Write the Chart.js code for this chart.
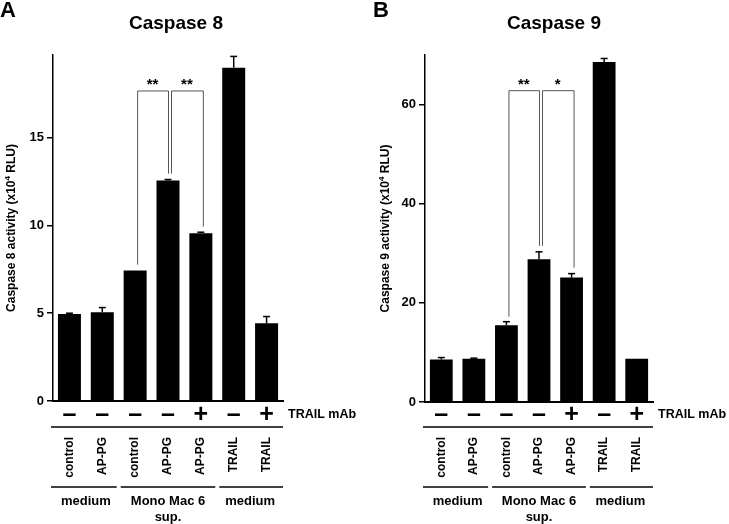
<!DOCTYPE html>
<html>
<head>
<meta charset="utf-8">
<script src="https://cdn.jsdelivr.net/npm/chart.js@4.4.1/dist/chart.umd.min.js"></script>
<style>
  body { margin: 0; background: #fff; }
  canvas { position: absolute; top: 0; }
</style>
</head>
<body>
<canvas id="chartA" style="left:0" width="372" height="524"></canvas>
<canvas id="chartB" style="left:372px" width="357" height="524"></canvas>
<script>
// ======================
// DATA
// ======================
const categories = ["control", "AP-PG", "control", "AP-PG", "AP-PG", "TRAIL", "TRAIL"];
const trailMab = ["\u2013", "\u2013", "\u2013", "\u2013", "+", "\u2013", "+"];
const groupLabels = [["medium"], ["Mono Mac 6", "sup."], ["medium"]];
const groupSizes = [2, 3, 2];

// Caspase 8 (x10^4 RLU), error = upper SD bar length
const casp8Values = [4.95, 5.05, 7.43, 12.55, 9.55, 18.98, 4.43];
const casp8Errors = [0.05, 0.27, 0, 0.06, 0.06, 0.64, 0.38];
const casp8Max = 19.7;
const casp8Step = 5;
const casp8Brackets = [
  { from: 2, to: 3, top: 17.68, legs: [7.76, 12.95], label: "**" },
  { from: 3, to: 4, top: 17.68, legs: [12.95, 9.93], label: "**" }
];

// Caspase 9 (x10^4 RLU)
const casp9Values = [8.57, 8.7, 15.5, 28.8, 25.1, 68.6, 8.7];
const casp9Errors = [0.4, 0.15, 0.7, 1.5, 0.8, 0.7, 0];
const casp9Max = 70;
const casp9Step = 20;
const casp9Brackets = [
  { from: 2, to: 3, top: 62.9, legs: [17.2, 31.5], label: "**" },
  { from: 3, to: 4, top: 62.9, legs: [31.5, 27.1], label: "*" }
];

const FONT = '"Liberation Sans", Arial, sans-serif';

function line(ctx, x1, y1, x2, y2) {
  ctx.beginPath();
  ctx.moveTo(x1, y1);
  ctx.lineTo(x2, y2);
  ctx.stroke();
}

// ======================
// ANNOTATION PLUGIN
// ======================
const panelPlugin = {
  id: "panel",
  afterDraw(chart, args, o) {
    const ctx = chart.ctx;
    const xs = chart.scales.x;
    const ys = chart.scales.y;
    const area = chart.chartArea;
    const catW = xs.width / categories.length;

    ctx.save();
    ctx.fillStyle = "#000";
    ctx.strokeStyle = "#000";

    // panel letter + title
    ctx.font = "bold 22px " + FONT;
    ctx.textAlign = "left";
    ctx.textBaseline = "alphabetic";
    ctx.fillText(o.letter, o.letterX, 17);
    ctx.font = "bold 19px " + FONT;
    ctx.textAlign = "center";
    ctx.fillText(o.title, o.titleX, 28.5);

    // y title with superscript
    const parts = o.yTitle;
    ctx.font = "bold 12px " + FONT;
    const w0 = ctx.measureText(parts[0]).width;
    const w2 = ctx.measureText(parts[2]).width;
    ctx.font = "bold 8px " + FONT;
    const w1 = ctx.measureText(parts[1]).width;
    const total = w0 + w1 + w2;
    ctx.save();
    ctx.translate(o.yTitleX, (area.top + area.bottom) / 2);
    ctx.rotate(-Math.PI / 2);
    ctx.textAlign = "left";
    ctx.textBaseline = "middle";
    ctx.font = "bold 12px " + FONT;
    ctx.fillText(parts[0], -total / 2, 0);
    ctx.font = "bold 8px " + FONT;
    ctx.fillText(parts[1], -total / 2 + w0, -4);
    ctx.font = "bold 12px " + FONT;
    ctx.fillText(parts[2], -total / 2 + w0 + w1, 0);
    ctx.restore();

    // error bars
    ctx.lineWidth = 1.5;
    o.values.forEach((v, i) => {
      const e = o.errors[i];
      if (!e) return;
      const cx = xs.getPixelForValue(i);
      const y0 = ys.getPixelForValue(v);
      const y1 = ys.getPixelForValue(v + e);
      line(ctx, cx, y0, cx, y1);
      line(ctx, cx - 3.5, y1, cx + 3.5, y1);
    });

    // significance brackets
    ctx.strokeStyle = "#555";
    ctx.lineWidth = 1;
    o.brackets.forEach((b, k) => {
      const xl = xs.getPixelForValue(b.from) + (k > 0 ? 3 : 2);
      const xr = xs.getPixelForValue(b.to) + (k < o.brackets.length - 1 ? 0 : 2);
      const yt = ys.getPixelForValue(b.top);
      ctx.beginPath();
      ctx.moveTo(xl + 0.5, ys.getPixelForValue(b.legs[0]));
      ctx.lineTo(xl + 0.5, yt + 0.5);
      ctx.lineTo(xr + 0.5, yt + 0.5);
      ctx.lineTo(xr + 0.5, ys.getPixelForValue(b.legs[1]));
      ctx.stroke();
      ctx.font = "bold 15px " + FONT;
      ctx.textAlign = "center";
      ctx.textBaseline = "alphabetic";
      ctx.fillText(b.label, (xl + xr) / 2, yt - 1);
    });

    // TRAIL mAb row
    ctx.strokeStyle = "#000";
    ctx.textBaseline = "middle";
    ctx.textAlign = "center";
    ctx.font = "bold 25px " + FONT;
    trailMab.forEach((s, i) => {
      ctx.fillText(s, xs.getPixelForValue(i), 415);
    });
    ctx.font = "bold 12.5px " + FONT;
    ctx.textAlign = "left";
    ctx.fillText("TRAIL mAb", area.right + 5, 415);

    ctx.lineWidth = 1.5;
    line(ctx, area.left - 2, 427, area.right, 427);

    // category labels (rotated)
    ctx.font = "bold 12px " + FONT;
    categories.forEach((c, i) => {
      ctx.save();
      ctx.translate(xs.getPixelForValue(i), 437);
      ctx.rotate(-Math.PI / 2);
      ctx.textAlign = "right";
      ctx.textBaseline = "middle";
      ctx.fillText(c, 0, 0);
      ctx.restore();
    });

    // group lines and labels
    let start = 0;
    groupSizes.forEach((n, g) => {
      const left = xs.left + start * catW;
      const right = xs.left + (start + n) * catW;
      const x1 = g === 0 ? left - 2 : left + 2;
      const x2 = g === groupSizes.length - 1 ? right : right - 2;
      line(ctx, x1, 487, x2, 487);
      ctx.font = "bold 13px " + FONT;
      ctx.textAlign = "center";
      ctx.textBaseline = "middle";
      groupLabels[g].forEach((t, j) => {
        ctx.fillText(t, (left + right) / 2, 501 + j * 16);
      });
      start += n;
    });

    ctx.restore();
  }
};

function createChart(canvasId, values, errors, max, step, padRight, xHeight, panel) {
  return new Chart(document.getElementById(canvasId), {
    type: "bar",
    data: {
      labels: categories,
      datasets: [{
        data: values,
        backgroundColor: "#000",
        borderWidth: 0,
        barPercentage: 0.7,
        categoryPercentage: 1
      }]
    },
    options: {
      responsive: false,
      animation: false,
      layout: { padding: { top: 55, right: padRight, left: 0, bottom: 0 } },
      plugins: {
        legend: { display: false },
        tooltip: { enabled: false },
        panel: Object.assign({ values: values, errors: errors }, panel)
      },
      scales: {
        x: {
          grid: { display: false },
          ticks: { display: false },
          border: { display: true, color: "#000", width: 2 },
          afterFit: s => { s.height = xHeight; }
        },
        y: {
          min: 0,
          max: max,
          ticks: {
            stepSize: step,
            includeBounds: false,
            color: "#000",
            padding: 3,
            font: { family: FONT, size: 13, weight: "bold" }
          },
          grid: {
            display: true,
            drawOnChartArea: false,
            drawTicks: true,
            tickLength: 6,
            color: "#000",
            lineWidth: 1.5
          },
          border: { display: true, color: "#000", width: 1.5 },
          afterFit: s => { s.width = 53; }
        }
      }
    },
    plugins: [panelPlugin]
  });
}

createChart("chartA", casp8Values, casp8Errors, casp8Max, casp8Step, 89, 123, {
  letter: "A", letterX: 0, title: "Caspase 8", titleX: 176, yTitleX: 12,
  yTitle: ["Caspase 8 activity (x10", "4", " RLU)"],
  brackets: casp8Brackets
});

createChart("chartB", casp9Values, casp9Errors, casp9Max, casp9Step, 76, 122, {
  letter: "B", letterX: 1, title: "Caspase 9", titleX: 182, yTitleX: 14,
  yTitle: ["Caspase 9 activity (x10", "4", " RLU)"],
  brackets: casp9Brackets
});
</script>
</body>
</html>
